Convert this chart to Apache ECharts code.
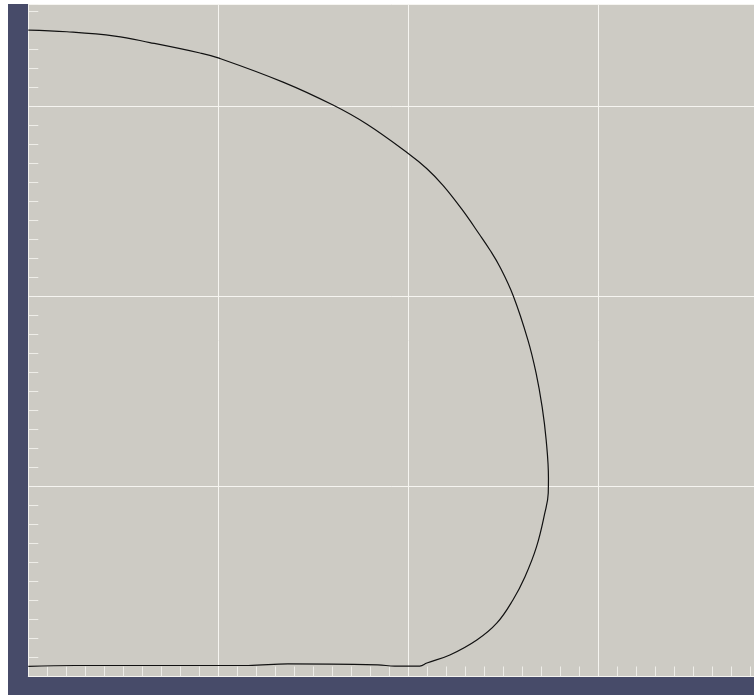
<!DOCTYPE html>
<html lang="en">

<head>
    <meta charset="UTF-8">
    <title>Drop profile</title>
    <style>
        html, body {
            margin: 0;
            padding: 0;
            background: #ffffff;
        }

        #main {
            position: absolute;
            left: 8px;
            top: 4px;
            width: 746px;
            height: 691px;
        }
    </style>
</head>

<body>
    <div id="main"></div>
    <script src="https://cdn.jsdelivr.net/npm/echarts@6/dist/echarts.min.js"></script>
    <script>
        // profile of the drop (x, y in axis units)
        const xs = [0, 0.203, 0.456, 0.640, 0.904, 1.004, 1.341, 1.604, 1.781, 2.0, 2.097, 2.184, 2.281, 2.377,
            2.430, 2.482, 2.553, 2.630, 2.673, 2.705, 2.726, 2.738, 2.737, 2.719, 2.675, 2.614, 2.551, 2.467,
            2.361, 2.219, 2.098, 2.061, 1.929, 1.840, 1.367, 1.157, 0.246, 0];
        const ys = [3.403, 3.394, 3.371, 3.337, 3.282, 3.255, 3.129, 3.008, 2.908, 2.753, 2.674, 2.584, 2.461, 2.324,
            2.245, 2.157, 2.003, 1.771, 1.597, 1.418, 1.245, 1.045, 0.966, 0.861, 0.682, 0.524, 0.403, 0.282,
            0.192, 0.113, 0.071, 0.055, 0.055, 0.061, 0.066, 0.058, 0.058, 0.053];

        const xMax = 3.82;
        const yMax = 3.54;

        var myChart = echarts.init(document.getElementById('main'));

        function axis(max) {
            return {
                type: 'value',
                min: 0,
                max: max,
                interval: 1,
                axisLine: {
                    show: true,
                    lineStyle: { color: '#f4f3ef', width: 1 }
                },
                axisTick: {
                    show: true,
                    inside: true,
                    length: 10,
                    lineStyle: { color: '#f4f3ef' }
                },
                minorTick: {
                    show: true,
                    splitNumber: 10,
                    length: 10,
                    lineStyle: { color: '#eeede8' }
                },
                axisLabel: { show: false },
                splitLine: {
                    show: true,
                    lineStyle: { color: '#f6f5f1', width: 1 }
                }
            };
        }

        option = {
            animation: false,
            backgroundColor: '#474b69',
            grid: {
                left: 20.3,
                top: 0,
                right: 0,
                bottom: 18.5,
                show: true,
                backgroundColor: '#cdcbc4',
                borderWidth: 0
            },
            xAxis: axis(xMax),
            yAxis: axis(yMax),
            series: [{
                type: 'line',
                data: xs.map((x, i) => [x, ys[i]]),
                showSymbol: false,
                smooth: 0.4,
                lineStyle: {
                    color: '#111111',
                    width: 1.2
                }
            }]
        };
        myChart.setOption(option);
    </script>

</body>

</html>
